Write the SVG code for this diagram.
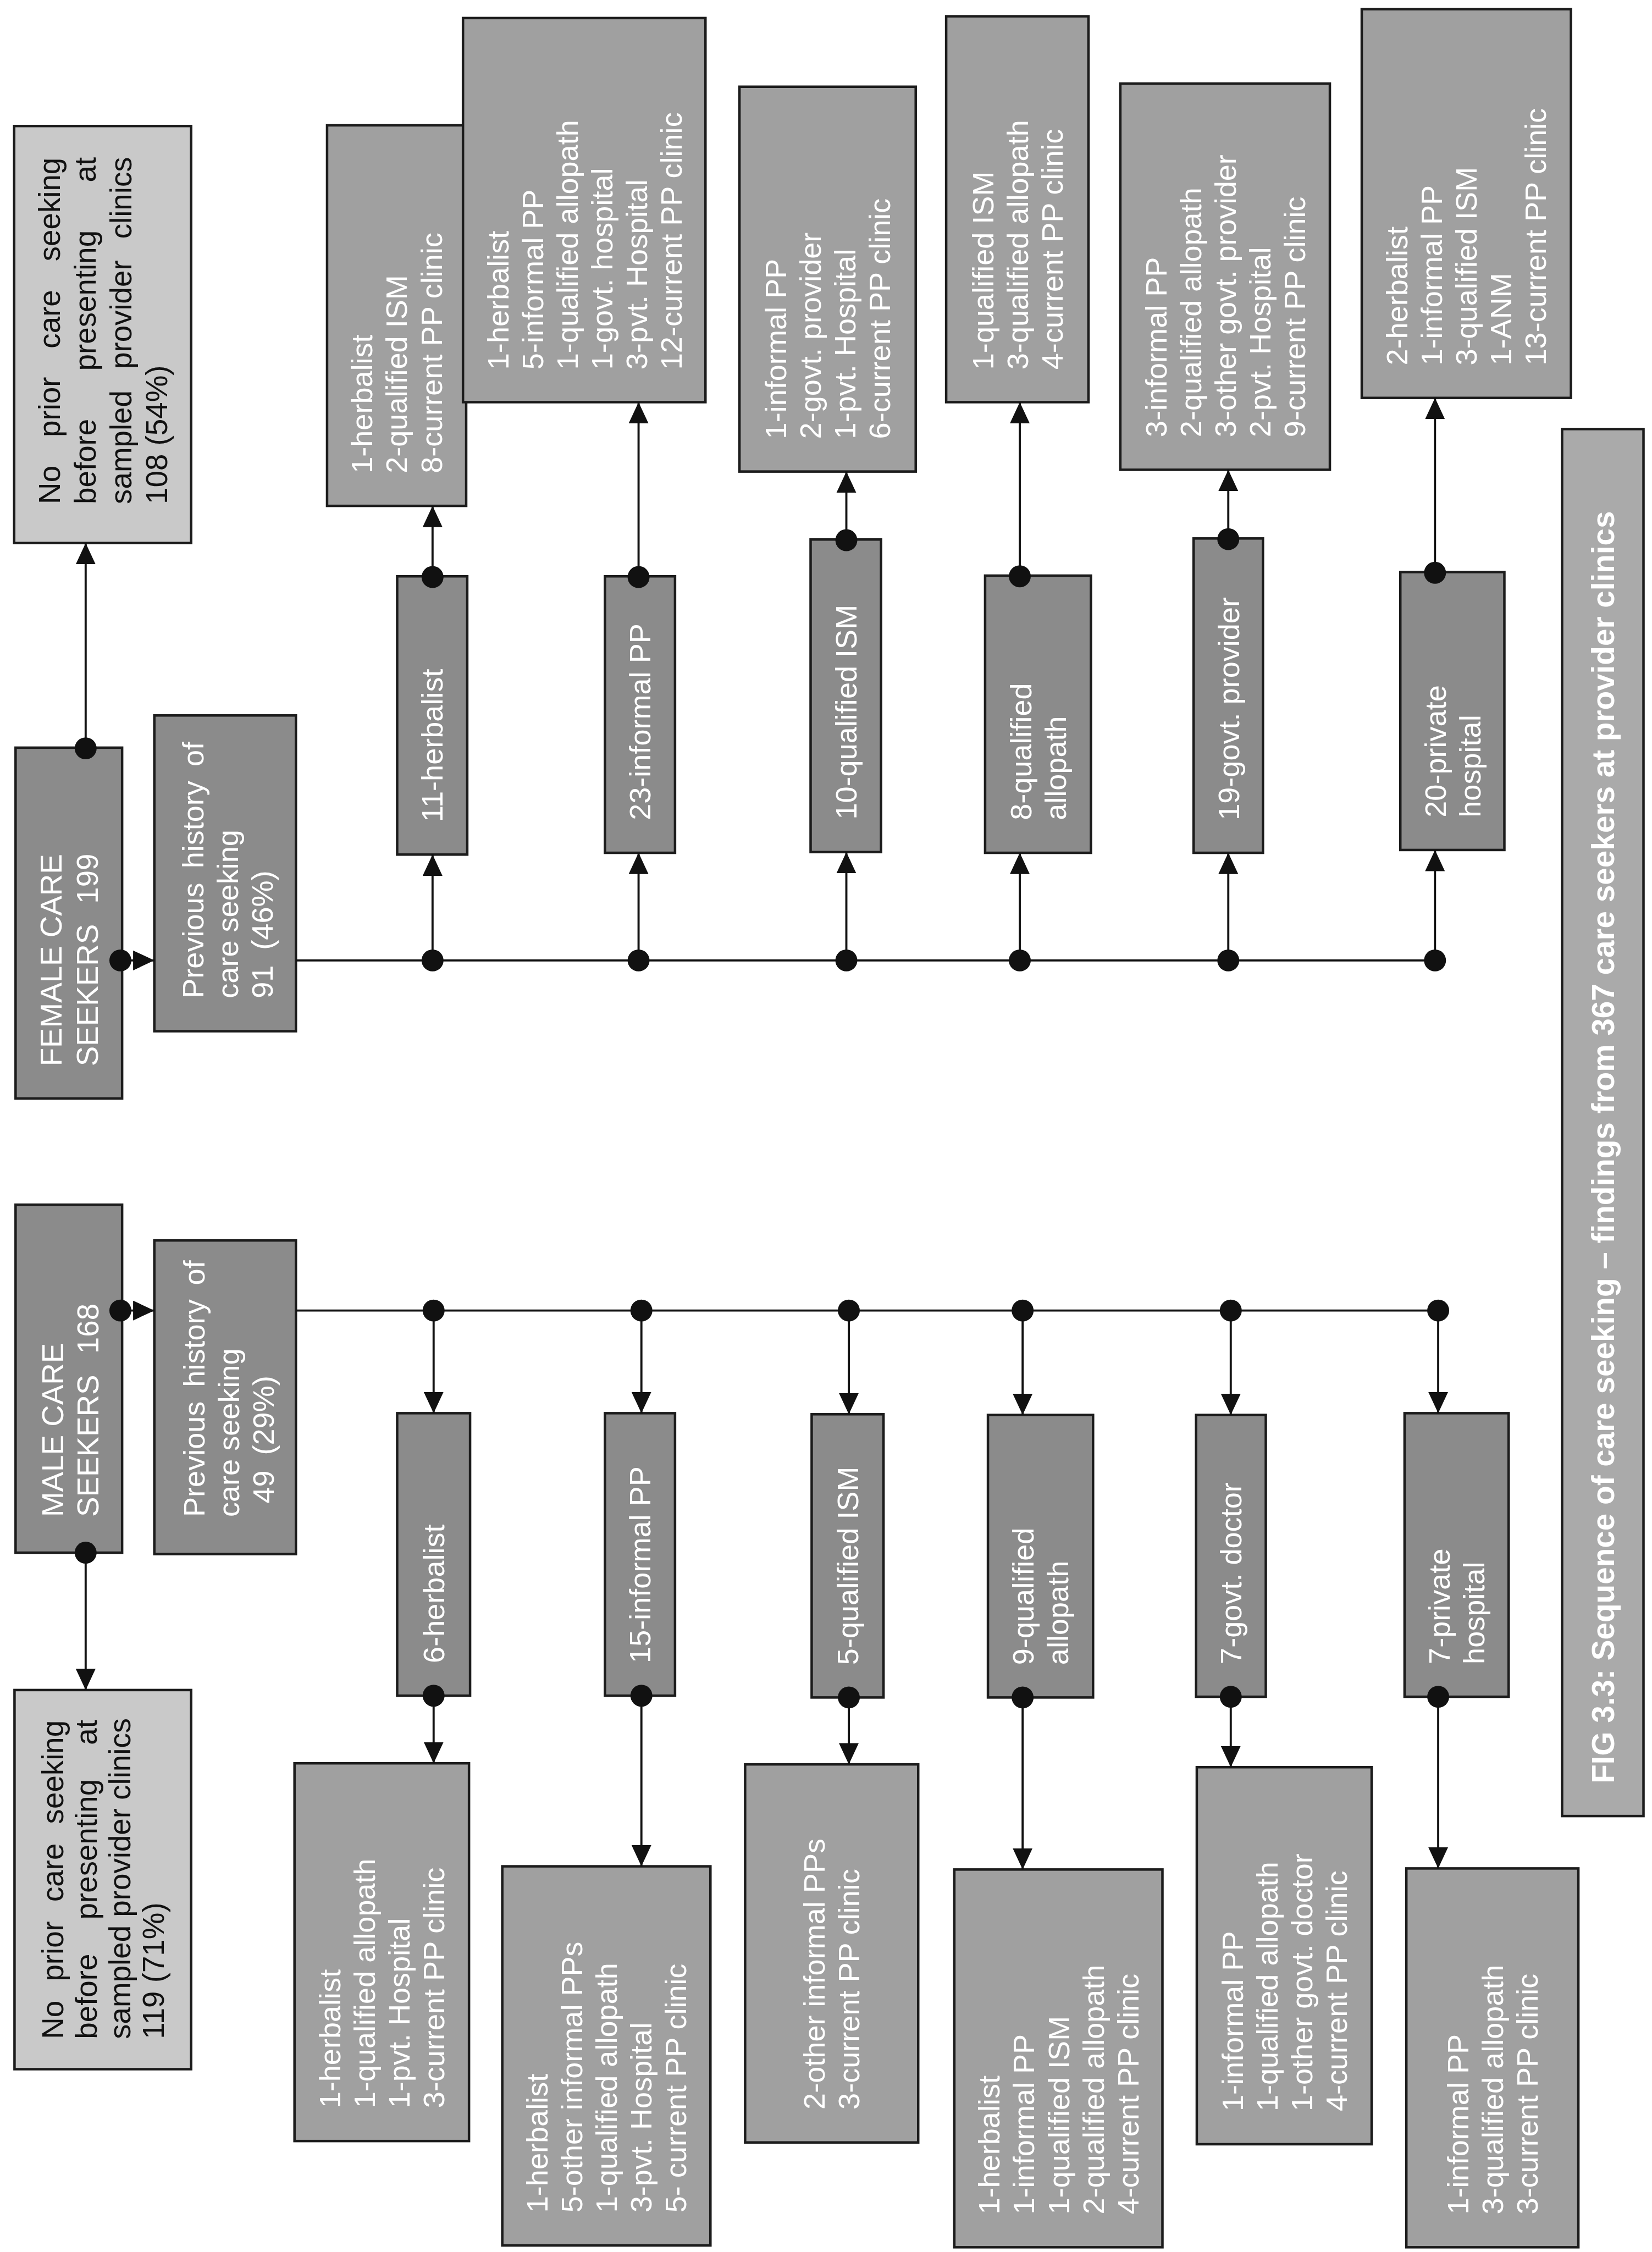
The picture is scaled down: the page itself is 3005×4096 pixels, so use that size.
<svg xmlns="http://www.w3.org/2000/svg" width="3005" height="4096" viewBox="0 0 3005 4096">
<defs>
<style>
.bx{stroke:#1c1c1c;stroke-width:7}
.lt{fill:#c9c9c9}
.md{fill:#a0a0a0}
.dk{fill:#8b8b8b}
.fg{fill:#aaaaaa}
text{font-family:"Liberation Sans",Arial,Helvetica,sans-serif}
.w{fill:#ffffff;font-size:84px}
.k{fill:#111111;font-size:85px}
.h{fill:#ffffff;font-size:85px}
.cap{fill:#ffffff;font-size:88px;font-weight:bold}
.ln{stroke:#111111;stroke-width:6;fill:none}
.ar{marker-end:url(#ah)}
.dot{fill:#111111}
</style>
<marker id="ah" viewBox="0 0 10 10" refX="10" refY="5" markerWidth="60" markerHeight="56" markerUnits="userSpaceOnUse" orient="auto" preserveAspectRatio="none"><path d="M0,0 L10,5 L0,10 z" fill="#111111"/></marker>
</defs>
<rect x="0" y="0" width="3005" height="4096" fill="#ffffff"/>
<g transform="scale(0.64388)">

<!-- ===== FEMALE ===== -->
<g id="female-no-prior">
<rect class="bx lt" x="40" y="356" width="500" height="1178"/>
<text class="k" transform="rotate(-90)">
<tspan x="-1424" y="169" style="word-spacing:57px">No prior care seeking</tspan>
<tspan x="-1424" y="270" style="word-spacing:112px">before presenting at</tspan>
<tspan x="-1424" y="371" style="word-spacing:37px">sampled provider clinics</tspan>
<tspan x="-1424" y="472">108 (54%)</tspan>
</text>
</g>
<g id="f-A">
<rect class="bx md" x="924" y="354" width="393" height="1075"/>
<text class="w" transform="rotate(-90)"><tspan x="-1337" y="1052">1-herbalist</tspan><tspan x="-1337" dy="98">2-qualified ISM</tspan><tspan x="-1337" dy="98">8-current PP clinic</tspan></text>
</g>
<g id="f-B">
<rect class="bx md" x="1308" y="51" width="685" height="1085"/>
<text class="w" transform="rotate(-90)"><tspan x="-1044" y="1436">1-herbalist</tspan><tspan x="-1044" dy="98">5-informal PP</tspan><tspan x="-1044" dy="98">1-qualified allopath</tspan><tspan x="-1044" dy="98">1-govt. hospital</tspan><tspan x="-1044" dy="98">3-pvt. Hospital</tspan><tspan x="-1044" dy="98">12-current PP clinic</tspan></text>
</g>
<g id="f-C">
<rect class="bx md" x="2089" y="245" width="498" height="1087"/>
<text class="w" transform="rotate(-90)"><tspan x="-1240" y="2221">1-informal PP</tspan><tspan x="-1240" dy="98">2-govt. provider</tspan><tspan x="-1240" dy="98">1-pvt. Hospital</tspan><tspan x="-1240" dy="98">6-current PP clinic</tspan></text>
</g>
<g id="f-D">
<rect class="bx md" x="2673" y="46" width="402" height="1090"/>
<text class="w" transform="rotate(-90)"><tspan x="-1044" y="2806">1-qualified ISM</tspan><tspan x="-1044" dy="98">3-qualified allopath</tspan><tspan x="-1044" dy="98">4-current PP clinic</tspan></text>
</g>
<g id="f-E">
<rect class="bx md" x="3165" y="236" width="592" height="1091"/>
<text class="w" transform="rotate(-90)"><tspan x="-1235" y="3295">3-informal PP</tspan><tspan x="-1235" dy="98">2-qualified allopath</tspan><tspan x="-1235" dy="98">3-other govt. provider</tspan><tspan x="-1235" dy="98">2-pvt. Hospital</tspan><tspan x="-1235" dy="98">9-current PP clinic</tspan></text>
</g>
<g id="f-F">
<rect class="bx md" x="3847" y="26" width="591" height="1098"/>
<text class="w" transform="rotate(-90)"><tspan x="-1032" y="3976">2-herbalist</tspan><tspan x="-1032" dy="98">1-informal PP</tspan><tspan x="-1032" dy="98">3-qualified ISM</tspan><tspan x="-1032" dy="98">1-ANM</tspan><tspan x="-1032" dy="98">13-current PP clinic</tspan></text>
</g>
<g id="female">
<rect class="bx dk" x="44" y="2112" width="301" height="991"/>
<text class="h" transform="rotate(-90)"><tspan x="-3012" y="174">FEMALE CARE</tspan><tspan x="-3012" y="276" style="word-spacing:34px">SEEKERS 199</tspan></text>
</g>
<g id="f-prev">
<rect class="bx dk" x="436" y="2021" width="400" height="892"/>
<text class="w" transform="rotate(-90)"><tspan x="-2820" y="575" style="word-spacing:17px">Previous history of</tspan><tspan x="-2820" y="673">care seeking</tspan><tspan x="-2820" y="771" style="word-spacing:20px">91 (46%)</tspan></text>
</g>
<g id="f-r1"><rect class="bx dk" x="1122" y="1628" width="198" height="786"/><text class="w" transform="rotate(-90)" x="-2322" y="1251">11-herbalist</text></g>
<g id="f-r2"><rect class="bx dk" x="1709" y="1628" width="198" height="781"/><text class="w" transform="rotate(-90)" x="-2317" y="1838">23-informal PP</text></g>
<g id="f-r3"><rect class="bx dk" x="2290" y="1524" width="199" height="883"/><text class="w" transform="rotate(-90)" x="-2315" y="2419">10-qualified ISM</text></g>
<g id="f-r4"><rect class="bx dk" x="2783" y="1626" width="299" height="783"/><text class="w" transform="rotate(-90)"><tspan x="-2317" y="2913">8-qualified</tspan><tspan x="-2317" dy="98">allopath</tspan></text></g>
<g id="f-r5"><rect class="bx dk" x="3372" y="1521" width="196" height="888"/><text class="w" transform="rotate(-90)" x="-2317" y="3500">19-govt. provider</text></g>
<g id="f-r6"><rect class="bx dk" x="3956" y="1616" width="294" height="785"/><text class="w" transform="rotate(-90)"><tspan x="-2309" y="4084">20-private</tspan><tspan x="-2309" dy="98">hospital</tspan></text></g>

<!-- ===== MALE ===== -->
<g id="male">
<rect class="bx dk" x="44" y="3403" width="301" height="983"/>
<text class="h" transform="rotate(-90)"><tspan x="-4285" y="178">MALE CARE</tspan><tspan x="-4285" y="278" style="word-spacing:36px">SEEKERS 168</tspan></text>
</g>
<g id="m-prev">
<rect class="bx dk" x="436" y="3504" width="400" height="886"/>
<text class="w" transform="rotate(-90)"><tspan x="-4285" y="577" style="word-spacing:17px">Previous history of</tspan><tspan x="-4285" y="675">care seeking</tspan><tspan x="-4247" y="773" style="word-spacing:20px">49 (29%)</tspan></text>
</g>
<g id="m-r1"><rect class="bx dk" x="1122" y="3992" width="206" height="798"/><text class="w" transform="rotate(-90)" x="-4698" y="1255">6-herbalist</text></g>
<g id="m-r2"><rect class="bx dk" x="1709" y="3992" width="198" height="798"/><text class="w" transform="rotate(-90)" x="-4698" y="1838">15-informal PP</text></g>
<g id="m-r3"><rect class="bx dk" x="2293" y="3995" width="203" height="800"/><text class="w" transform="rotate(-90)" x="-4703" y="2424">5-qualified ISM</text></g>
<g id="m-r4"><rect class="bx dk" x="2791" y="3997" width="297" height="798"/><text class="w" transform="rotate(-90)"><tspan x="-4703" y="2920">9-qualified</tspan><tspan x="-4703" dy="98">allopath</tspan></text></g>
<g id="m-r5"><rect class="bx dk" x="3379" y="3997" width="197" height="796"/><text class="w" transform="rotate(-90)" x="-4701" y="3507">7-govt. doctor</text></g>
<g id="m-r6"><rect class="bx dk" x="3968" y="3992" width="294" height="801"/><text class="w" transform="rotate(-90)"><tspan x="-4701" y="4096">7-private</tspan><tspan x="-4701" dy="98">hospital</tspan></text></g>
<g id="male-no-prior">
<rect class="bx lt" x="41" y="4774" width="499" height="1071"/>
<text class="k" transform="rotate(-90)">
<tspan x="-5760" y="178" style="word-spacing:31px">No prior care seeking</tspan>
<tspan x="-5760" y="273" style="word-spacing:73px">before presenting at</tspan>
<tspan x="-5760" y="368">sampled provider clinics</tspan>
<tspan x="-5760" y="463">119 (71%)</tspan>
</text>
</g>
<g id="m-G1">
<rect class="bx md" x="832" y="4981" width="493" height="1067"/>
<text class="w" transform="rotate(-90)"><tspan x="-5955" y="961">1-herbalist</tspan><tspan x="-5955" dy="98">1-qualified allopath</tspan><tspan x="-5955" dy="98">1-pvt. Hospital</tspan><tspan x="-5955" dy="98">3-current PP clinic</tspan></text>
</g>
<g id="m-G2">
<rect class="bx md" x="1419" y="5272" width="588" height="1071"/>
<text class="w" transform="rotate(-90)"><tspan x="-6250" y="1547">1-herbalist</tspan><tspan x="-6250" dy="98">5-other informal PPs</tspan><tspan x="-6250" dy="98">1-qualified allopath</tspan><tspan x="-6250" dy="98">3-pvt. Hospital</tspan><tspan x="-6250" dy="98">5- current PP clinic</tspan></text>
</g>
<g id="m-G3">
<rect class="bx md" x="2105" y="4984" width="489" height="1068"/>
<text class="w" transform="rotate(-90)"><tspan x="-5959" y="2330">2-other informal PPs</tspan><tspan x="-5959" dy="98">3-current PP clinic</tspan></text>
</g>
<g id="m-G4">
<rect class="bx md" x="2696" y="5281" width="588" height="1067"/>
<text class="w" transform="rotate(-90)"><tspan x="-6255" y="2824">1-herbalist</tspan><tspan x="-6255" dy="98">1-informal PP</tspan><tspan x="-6255" dy="98">1-qualified ISM</tspan><tspan x="-6255" dy="98">2-qualified allopath</tspan><tspan x="-6255" dy="98">4-current PP clinic</tspan></text>
</g>
<g id="m-G5">
<rect class="bx md" x="3381" y="4992" width="494" height="1065"/>
<text class="w" transform="rotate(-90)"><tspan x="-5964" y="3511">1-informal PP</tspan><tspan x="-5964" dy="98">1-qualified allopath</tspan><tspan x="-5964" dy="98">1-other govt. doctor</tspan><tspan x="-5964" dy="98">4-current PP clinic</tspan></text>
</g>
<g id="m-G6">
<rect class="bx md" x="3973" y="5278" width="486" height="1070"/>
<text class="w" transform="rotate(-90)"><tspan x="-6255" y="4148">1-informal PP</tspan><tspan x="-6255" dy="98">3-qualified allopath</tspan><tspan x="-6255" dy="98">3-current PP clinic</tspan></text>
</g>

<g id="caption">
<rect class="bx fg" x="4413" y="1212" width="230" height="3918"/>
<text class="cap" transform="rotate(-90)" x="-5038" y="4560">FIG 3.3: Sequence of care seeking – findings from 367 care seekers at provider clinics</text>
</g>

<!-- ===== CONNECTORS ===== -->
<g id="connectors">
<!-- female -->
<line class="ln ar" x1="242" y1="2112" x2="242" y2="1534"/>
<line class="ln ar" x1="342" y1="2713" x2="436" y2="2713"/>
<line class="ln" x1="836" y1="2713" x2="4054" y2="2713"/>
<line class="ln ar" x1="1222" y1="2713" x2="1222" y2="2414"/>
<line class="ln ar" x1="1804" y1="2713" x2="1804" y2="2409"/>
<line class="ln ar" x1="2391" y1="2713" x2="2391" y2="2407"/>
<line class="ln ar" x1="2881" y1="2713" x2="2881" y2="2409"/>
<line class="ln ar" x1="3470" y1="2713" x2="3470" y2="2409"/>
<line class="ln ar" x1="4054" y1="2713" x2="4054" y2="2401"/>
<line class="ln ar" x1="1222" y1="1628" x2="1222" y2="1429"/>
<line class="ln ar" x1="1804" y1="1628" x2="1804" y2="1136"/>
<line class="ln ar" x1="2391" y1="1524" x2="2391" y2="1332"/>
<line class="ln ar" x1="2881" y1="1626" x2="2881" y2="1136"/>
<line class="ln ar" x1="3470" y1="1521" x2="3470" y2="1327"/>
<line class="ln ar" x1="4054" y1="1616" x2="4054" y2="1124"/>
<circle class="dot" cx="242" cy="2114" r="31"/>
<circle class="dot" cx="340" cy="2713" r="31"/>
<circle class="dot" cx="1222" cy="2713" r="31"/>
<circle class="dot" cx="1804" cy="2713" r="31"/>
<circle class="dot" cx="2391" cy="2713" r="31"/>
<circle class="dot" cx="2881" cy="2713" r="31"/>
<circle class="dot" cx="3470" cy="2713" r="31"/>
<circle class="dot" cx="4054" cy="2713" r="31"/>
<circle class="dot" cx="1222" cy="1630" r="31"/>
<circle class="dot" cx="1804" cy="1630" r="31"/>
<circle class="dot" cx="2391" cy="1526" r="31"/>
<circle class="dot" cx="2881" cy="1628" r="31"/>
<circle class="dot" cx="3470" cy="1523" r="31"/>
<circle class="dot" cx="4054" cy="1618" r="31"/>
<!-- male -->
<line class="ln ar" x1="242" y1="4386" x2="242" y2="4774"/>
<line class="ln ar" x1="342" y1="3702" x2="436" y2="3702"/>
<line class="ln" x1="836" y1="3702" x2="4063" y2="3702"/>
<line class="ln ar" x1="1225" y1="3702" x2="1225" y2="3992"/>
<line class="ln ar" x1="1812" y1="3702" x2="1812" y2="3992"/>
<line class="ln ar" x1="2398" y1="3702" x2="2398" y2="3995"/>
<line class="ln ar" x1="2889" y1="3702" x2="2889" y2="3997"/>
<line class="ln ar" x1="3477" y1="3702" x2="3477" y2="3997"/>
<line class="ln ar" x1="4063" y1="3702" x2="4063" y2="3992"/>
<line class="ln ar" x1="1225" y1="4790" x2="1225" y2="4981"/>
<line class="ln ar" x1="1812" y1="4790" x2="1812" y2="5272"/>
<line class="ln ar" x1="2398" y1="4795" x2="2398" y2="4984"/>
<line class="ln ar" x1="2889" y1="4795" x2="2889" y2="5281"/>
<line class="ln ar" x1="3477" y1="4793" x2="3477" y2="4992"/>
<line class="ln ar" x1="4063" y1="4793" x2="4063" y2="5278"/>
<circle class="dot" cx="242" cy="4386" r="31"/>
<circle class="dot" cx="340" cy="3702" r="31"/>
<circle class="dot" cx="1225" cy="3702" r="31"/>
<circle class="dot" cx="1812" cy="3702" r="31"/>
<circle class="dot" cx="2398" cy="3702" r="31"/>
<circle class="dot" cx="2889" cy="3702" r="31"/>
<circle class="dot" cx="3477" cy="3702" r="31"/>
<circle class="dot" cx="4063" cy="3702" r="31"/>
<circle class="dot" cx="1225" cy="4790" r="31"/>
<circle class="dot" cx="1812" cy="4790" r="31"/>
<circle class="dot" cx="2398" cy="4795" r="31"/>
<circle class="dot" cx="2889" cy="4795" r="31"/>
<circle class="dot" cx="3477" cy="4793" r="31"/>
<circle class="dot" cx="4063" cy="4793" r="31"/>
</g>
</g>
</svg>
